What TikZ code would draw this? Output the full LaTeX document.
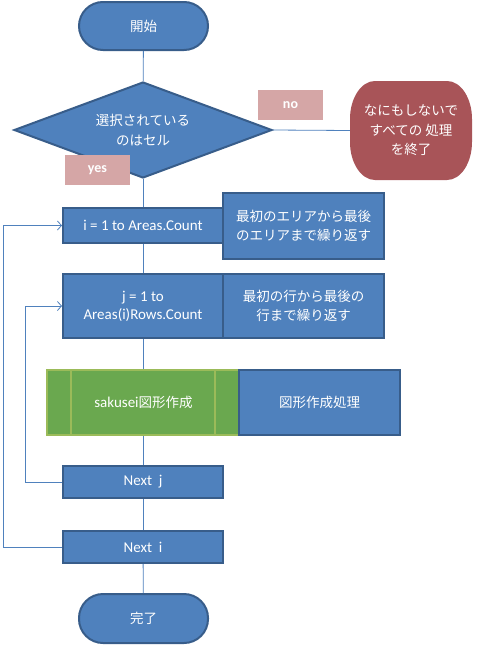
\documentclass[tikz,border=0pt]{standalone}
\usepackage{fontspec}
\setmainfont{Carlito}
\newfontfamily\cjk{Noto Sans CJK JP}
\usetikzlibrary{shapes.geometric,arrows.meta}
\definecolor{bfill}{HTML}{4F81BD}
\definecolor{bdraw}{HTML}{385D8A}
\definecolor{rfill}{HTML}{A85458}
\definecolor{pfill}{HTML}{D5A6A6}
\definecolor{gfill}{HTML}{6AA84F}
\definecolor{gdraw}{HTML}{9BBB59}
\definecolor{lcol}{HTML}{4F81BD}
\tikzset{
  base/.style={inner sep=0pt, text=white, align=center, font=\fontsize{15}{18}\selectfont},
  term/.style={base, fill=bfill, draw=bdraw, line width=2pt, minimum width=129pt, minimum height=48pt, rounded corners=24pt},
  proc/.style={base, fill=bfill, draw=bdraw, line width=2pt, minimum width=160pt},
  note/.style={base, fill=bfill, draw=bdraw, line width=2pt, minimum width=161pt},
  lbl/.style={base, fill=pfill, minimum width=65pt, minimum height=30pt, font=\bfseries\fontsize{14}{16}\selectfont},
  conn/.style={draw=lcol, line width=0.8pt},
  loop/.style={conn, -{Straight Barb[length=4pt,width=9pt,line width=0.8pt]}},
  jp/.style={font=\cjk\fontsize{13.5}{19.5}\selectfont}
}
\begin{document}
\begin{tikzpicture}[x=1pt,y=-1pt]
\useasboundingbox (0,0) rectangle (482,645);
\fill[white] (0,0) rectangle (482,645);

% red terminator background (elliptical corners)
\fill[rfill] (375,81) -- (447,81)
  arc[start angle=90, end angle=0, x radius=25pt, y radius=38pt]
  -- (472,142)
  arc[start angle=0, end angle=-90, x radius=25pt, y radius=38pt]
  -- (375,180)
  arc[start angle=270, end angle=180, x radius=25pt, y radius=38pt]
  -- (350,119)
  arc[start angle=180, end angle=90, x radius=25pt, y radius=38pt] -- cycle;

% nodes
\node[term, jp] (start) at (143.5,26) {開始};
\node[base, jp, diamond, aspect=2.69, fill=bfill, draw=bdraw, line width=2pt, minimum width=258pt, minimum height=96pt] (dec) at (143,130) {選択されている\\のはセル};
\node[base, jp, minimum width=122pt, minimum height=99pt] (none) at (411,130.5) {なにもしないで\\すべての 処理\\を終了};
\node[lbl] (no) at (290.5,105) {no};

\node[proc, minimum height=35pt] (fi) at (143,225.5) {i = 1 to Areas.Count};
\node[note, jp, minimum height=66pt] (ni) at (303.5,226) {最初のエリアから最後\\のエリアまで繰り返す};

\node[proc, minimum height=64pt, font=\fontsize{15}{18}\selectfont] (fj) at (143,306) {j = 1 to\\Areas(i)Rows.Count};
\node[note, jp, minimum height=64pt] (nj) at (303.5,306) {最初の行から最後の\\行まで繰り返す};

\node[base, fill=gfill, draw=gdraw, line width=2pt, minimum width=193pt, minimum height=65pt] (sak) at (143.5,402.5) {sakusei{\cjk\fontsize{13.5}{17}\selectfont 図形作成}};
\draw[gdraw, line width=2pt] (71,370) -- (71,435) (215,370) -- (215,435);
\node[note, jp, minimum height=65pt] (ns) at (319.5,402.5) {図形作成処理};

\node[proc, minimum height=32pt] (nxj) at (143,482) {Next\ \ j};
\node[proc, minimum height=32pt] (nxi) at (143,547) {Next\ \ i};
\node[term, jp, minimum height=49pt] (end) at (143.5,618.5) {完了};

% connectors
\draw[conn] (start) -- (dec);
\draw[conn] (dec.east) -- (none.west);
\draw[conn] (dec.south) -- (fi.north);
\draw[conn] (fi.south) -- (fj.north);
\draw[conn] (fj.south) -- (sak.north -| fj.south);
\draw[conn] (sak.south -| nxj.north) -- (nxj.north);
\draw[conn] (nxj) -- (nxi);
\draw[conn] (nxi) -- (end);

\coordinate (cj) at (25,482);
\coordinate (ci) at (3,547);
\draw[loop] (nxj.west) -- (cj) |- (fj.west);
\draw[loop] (nxi.west) -- (ci) |- (fi.west);

% label on top of diamond
\node[lbl] (yes) at (97.5,170) {yes};
\end{tikzpicture}
\end{document}
